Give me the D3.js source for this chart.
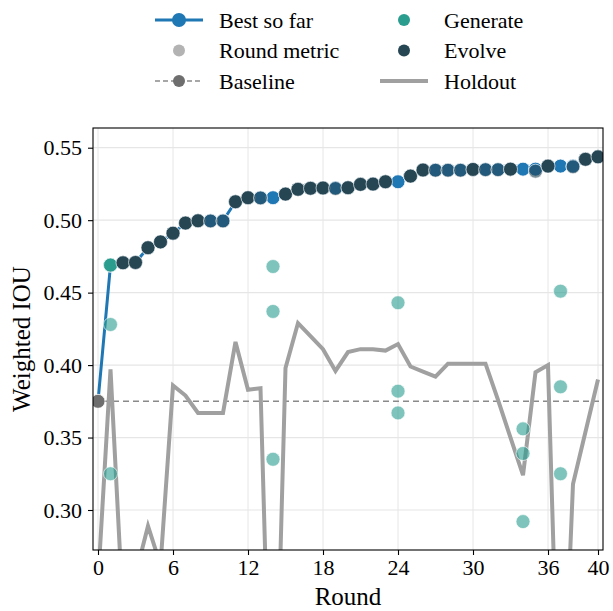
<!DOCTYPE html>
<html>
<head>
<meta charset="utf-8">
<script src="https://cdn.jsdelivr.net/npm/d3@7"></script>
<style>
  html, body { margin: 0; padding: 0; background: #fff; }
  svg { display: block; }
  text { font-family: "Liberation Serif", "Times New Roman", serif; }
</style>
</head>
<body>
<svg id="chart" width="613" height="611"></svg>
<script>
// ---------------- data ----------------
const rounds = d3.range(0, 41);
const xTicks = [0, 6, 12, 18, 24, 30, 36, 40];
const yTicks = [0.30, 0.35, 0.40, 0.45, 0.50, 0.55];

const baselineValue = 0.375;

const bestSoFar = [
  0.375, 0.469, 0.4706, 0.4708, 0.481, 0.485, 0.491, 0.498, 0.4996, 0.4996,
  0.4996, 0.5127, 0.5155, 0.5155, 0.5155, 0.518, 0.5213, 0.522, 0.5222, 0.5222,
  0.5224, 0.5247, 0.5249, 0.5265, 0.5265, 0.5304, 0.5346, 0.5346, 0.5346, 0.5346,
  0.535, 0.535, 0.535, 0.5352, 0.5352, 0.5352, 0.5373, 0.5373, 0.5373, 0.542,
  0.5437
];

const holdout = [
  0.25, 0.397, 0.23, 0.255, 0.289, 0.262, 0.386, 0.379, 0.367, 0.367,
  0.367, 0.416, 0.383, 0.384, 0.08, 0.398, 0.429, 0.420, 0.411, 0.396,
  0.409, 0.411, 0.411, 0.410, 0.4145, 0.399, 0.3955, 0.392, 0.401, 0.401,
  0.401, 0.401, 0.376, 0.350, 0.324, 0.395, 0.400, 0.11, 0.318, 0.354,
  0.390
];

const generateRounds = [1, 1, 1, 14, 14, 14, 24, 24, 24, 34, 34, 34, 37, 37, 37];
const generateValues = [0.469, 0.428, 0.325, 0.468, 0.437, 0.335, 0.443, 0.382, 0.367,
                        0.356, 0.339, 0.292, 0.451, 0.385, 0.325];

const evolveRounds = [2, 3, 4, 5, 6, 7, 8, 9, 10, 11, 12, 13, 15, 16, 17, 18, 19, 20,
                      21, 22, 23, 25, 26, 27, 28, 29, 30, 31, 32, 33, 35, 36, 38, 39, 40];
const evolveValues = [0.4706, 0.4708, 0.481, 0.485, 0.491, 0.498, 0.4996, 0.4994, 0.4994,
                      0.5127, 0.5155, 0.5153, 0.518, 0.5213, 0.522, 0.5222, 0.5218, 0.5224,
                      0.5247, 0.5249, 0.5265, 0.5304, 0.5346, 0.5344, 0.5344, 0.5344, 0.535,
                      0.5348, 0.5348, 0.5352, 0.5338, 0.5373, 0.5368, 0.542, 0.5437];

const legendLabels = ["Best so far", "Round metric", "Baseline", "Generate", "Evolve", "Holdout"];

// ---------------- styles ----------------
const C = {
  best: "#1f77b4", generate: "#2a9d8f", evolve: "#264653",
  holdout: "#a0a0a0", baseline: "#6e6e6e", dash: "#8a8a8a", round: "#b3b3b3",
  grid: "#e6e6e6"
};
const R = 7;

const svg = d3.select("#chart");
const m = { left: 93, right: 603, top: 128, bottom: 550 };

const x = d3.scaleLinear().domain([-0.4, 40.4]).range([m.left, m.right]);
const y = d3.scaleLinear().domain([0.2724, 0.5636]).range([m.bottom, m.top]);

svg.append("defs").append("clipPath").attr("id", "clip")
  .append("rect").attr("x", m.left).attr("y", m.top)
  .attr("width", m.right - m.left).attr("height", m.bottom - m.top);

// grid
const grid = svg.append("g");
grid.selectAll(".gx").data(xTicks).join("line")
  .attr("x1", d => x(d)).attr("x2", d => x(d)).attr("y1", m.top).attr("y2", m.bottom)
  .attr("stroke", C.grid).attr("stroke-width", 1);
grid.selectAll(".gy").data(yTicks).join("line")
  .attr("y1", d => y(d)).attr("y2", d => y(d)).attr("x1", m.left).attr("x2", m.right)
  .attr("stroke", C.grid).attr("stroke-width", 1.2);

const plot = svg.append("g").attr("clip-path", "url(#clip)");

// baseline dashed line
plot.append("line")
  .attr("x1", m.left).attr("x2", m.right)
  .attr("y1", y(baselineValue)).attr("y2", y(baselineValue))
  .attr("stroke", C.dash).attr("stroke-width", 1.5).attr("stroke-dasharray", "6,4");

// holdout line
plot.append("path")
  .datum(rounds.map((r, i) => [r, holdout[i]]))
  .attr("fill", "none").attr("stroke", C.holdout).attr("stroke-width", 4)
  .attr("stroke-linejoin", "miter").attr("stroke-miterlimit", 4)
  .attr("d", d3.line().x(d => x(d[0])).y(d => y(d[1])));

// best so far line + markers
plot.append("path")
  .datum(rounds.map((r, i) => [r, bestSoFar[i]]))
  .attr("fill", "none").attr("stroke", C.best).attr("stroke-width", 3)
  .attr("d", d3.line().x(d => x(d[0])).y(d => y(d[1])));
plot.selectAll(".bm").data(rounds.slice(1)).join("circle")
  .attr("cx", r => x(r)).attr("cy", r => y(bestSoFar[r])).attr("r", R)
  .attr("fill", C.best).attr("stroke", "#fff").attr("stroke-width", 0.8);

// round metric points
function isBest(r, v) { return v >= bestSoFar[r] - 1e-9; }
plot.selectAll(".gen").data(generateRounds.map((r, i) => [r, generateValues[i]])).join("circle")
  .attr("cx", d => x(d[0])).attr("cy", d => y(d[1])).attr("r", R)
  .attr("fill", C.generate).attr("fill-opacity", d => isBest(d[0], d[1]) ? 1 : 0.6)
  .attr("stroke", "#fff").attr("stroke-width", 0.8).attr("stroke-opacity", 0.8);
plot.selectAll(".evo").data(evolveRounds.map((r, i) => [r, evolveValues[i]])).join("circle")
  .attr("cx", d => x(d[0])).attr("cy", d => y(d[1])).attr("r", R)
  .attr("fill", C.evolve).attr("fill-opacity", d => isBest(d[0], d[1]) ? 1 : 0.6)
  .attr("stroke", "#fff").attr("stroke-width", 0.8).attr("stroke-opacity", 0.8);

// baseline point
plot.append("circle")
  .attr("cx", x(0)).attr("cy", y(baselineValue)).attr("r", R)
  .attr("fill", C.baseline).attr("stroke", "#fff").attr("stroke-width", 0.8);

// frame
svg.append("rect").attr("x", m.left).attr("y", m.top)
  .attr("width", m.right - m.left).attr("height", m.bottom - m.top)
  .attr("fill", "none").attr("stroke", "#000").attr("stroke-width", 1.1);

// axes
const xAxis = svg.append("g").attr("transform", `translate(0,${m.bottom})`)
  .call(d3.axisBottom(x).tickValues(xTicks).tickSize(5).tickPadding(4).tickFormat(d3.format("d")));
const yAxis = svg.append("g").attr("transform", `translate(${m.left},0)`)
  .call(d3.axisLeft(y).tickValues(yTicks).tickSize(5).tickPadding(6).tickFormat(d3.format(".2f")));
[xAxis, yAxis].forEach(a => {
  a.select(".domain").remove();
  a.selectAll(".tick line").attr("stroke", "#000").attr("stroke-width", 1.1);
  a.selectAll(".tick text").attr("fill", "#000").style("font-size", "22px")
    .style("font-family", "'Liberation Serif', serif");
});

svg.append("text").attr("x", (m.left + m.right) / 2).attr("y", 605)
  .attr("text-anchor", "middle").style("font-size", "25px").attr("fill", "#000").text("Round");
svg.append("text").attr("transform", `translate(30,${(m.top + m.bottom) / 2}) rotate(-90)`)
  .attr("text-anchor", "middle").style("font-size", "25px").attr("fill", "#000").text("Weighted IOU");

// legend
const lg = svg.append("g");
const rowY = [20, 50.5, 81];
const col1 = { hx0: 155, hx1: 203, mx: 179, tx: 219 };
const col2 = { hx0: 380, hx1: 428, mx: 404, tx: 444 };
function label(col, row, txt) {
  lg.append("text").attr("x", col.tx).attr("y", rowY[row]).attr("dy", "0.35em")
    .style("font-size", "22px").attr("fill", "#000").text(txt);
}
// Best so far
lg.append("line").attr("x1", col1.hx0).attr("x2", col1.hx1).attr("y1", rowY[0]).attr("y2", rowY[0])
  .attr("stroke", C.best).attr("stroke-width", 3);
lg.append("circle").attr("cx", col1.mx).attr("cy", rowY[0]).attr("r", R).attr("fill", C.best);
label(col1, 0, legendLabels[0]);
// Round metric
lg.append("circle").attr("cx", col1.mx).attr("cy", rowY[1]).attr("r", 6).attr("fill", C.round);
label(col1, 1, legendLabels[1]);
// Baseline
lg.append("line").attr("x1", col1.hx0).attr("x2", col1.hx1).attr("y1", rowY[2]).attr("y2", rowY[2])
  .attr("stroke", C.dash).attr("stroke-width", 1.5).attr("stroke-dasharray", "5,3");
lg.append("circle").attr("cx", col1.mx).attr("cy", rowY[2]).attr("r", 6).attr("fill", C.baseline);
label(col1, 2, legendLabels[2]);
// Generate
lg.append("circle").attr("cx", col2.mx).attr("cy", rowY[0]).attr("r", 6).attr("fill", C.generate);
label(col2, 0, legendLabels[3]);
// Evolve
lg.append("circle").attr("cx", col2.mx).attr("cy", rowY[1]).attr("r", 6).attr("fill", C.evolve);
label(col2, 1, legendLabels[4]);
// Holdout
lg.append("line").attr("x1", col2.hx0).attr("x2", col2.hx1).attr("y1", rowY[2]).attr("y2", rowY[2])
  .attr("stroke", C.holdout).attr("stroke-width", 4);
label(col2, 2, legendLabels[5]);
</script>
</body>
</html>
